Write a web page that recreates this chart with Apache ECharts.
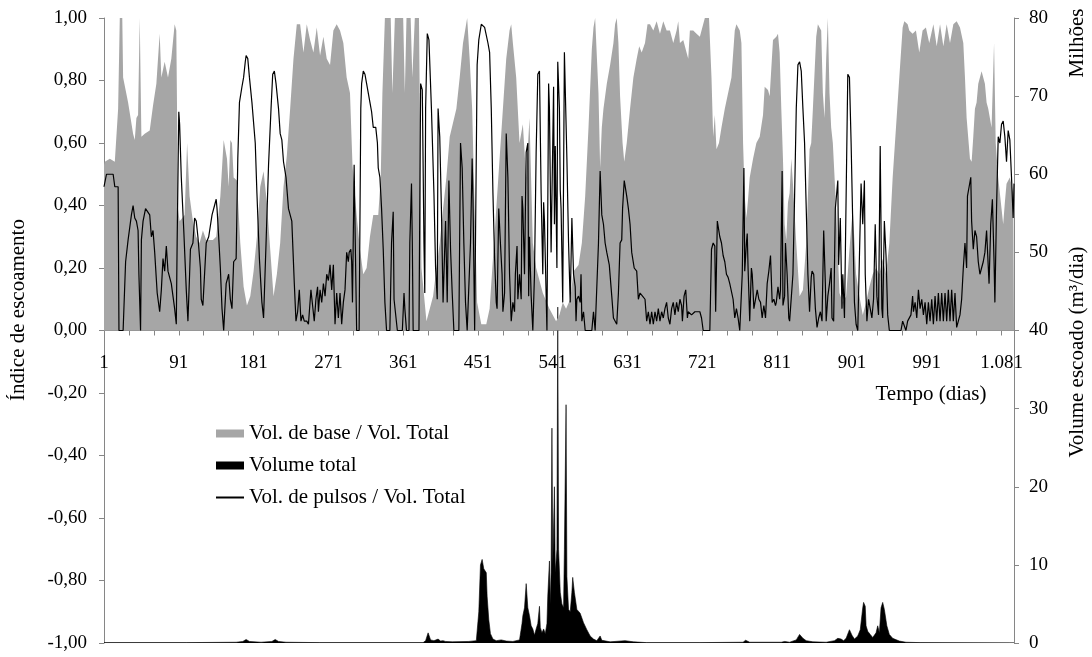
<!DOCTYPE html>
<html>
<head>
<meta charset="utf-8">
<script src="https://cdn.jsdelivr.net/npm/echarts@6/dist/echarts.min.js"></script>
<style>
html,body{margin:0;padding:0;background:#fff;}
#chart{width:1092px;height:657px;}
</style>
</head>
<body>
<div id="chart"></div>
<script>
// ---- Data ----
const seriesNames = ['Vol. de base / Vol. Total', 'Volume total', 'Vol. de pulsos / Vol. Total'];

// Vol. de base / Vol. Total (left axis), day -> ratio
const baseDays = [1,2,8,14,16,18,20,23,24,30,36,38,40,42,44,46,50,56,60,64,68,70,74,78,82,86,88,90,92,98,101,104,108,112,116,120,124,132,136,141,145,149,151,153,155,157,161,165,169,173,177,181,185,189,193,197,201,205,209,213,217,221,225,229,233,237,241,245,249,253,257,261,265,269,273,277,281,285,289,293,297,300,305,309,313,317,321,325,331,334,336,339,346,348,351,361,363,365,370,372,375,380,383,389,393,397,401,405,409,413,417,425,429,433,438,441,444,447,450,455,461,465,469,473,477,481,485,489,491,493,497,501,505,509,513,517,521,529,537,545,549,553,557,562,566,572,576,580,584,588,590,592,594,596,598,600,602,606,610,614,616,618,620,622,625,627,630,634,638,642,645,648,652,655,658,662,666,670,674,678,682,686,690,692,694,698,702,704,706,710,714,718,722,724,729,732,734,736,738,741,744,748,752,756,760,762,766,768,770,772,774,776,778,782,786,790,794,796,800,802,806,810,812,814,816,818,820,822,824,826,828,830,834,838,842,846,850,852,854,858,860,862,864,866,868,870,872,874,876,878,882,886,890,894,898,902,906,910,914,918,922,926,930,934,938,942,946,950,954,958,962,964,968,970,974,978,982,986,990,994,999,1003,1007,1011,1015,1019,1023,1027,1031,1035,1037,1039,1043,1045,1047,1049,1051,1053,1057,1061,1063,1065,1069,1072,1074,1077,1081,1083,1085,1087,1091,1095,1096];
const baseRatio = [0.53,0.54,0.55,0.54,0.54,0.71,1.00,1.00,0.81,0.73,0.63,0.61,0.68,0.69,1.00,0.62,0.63,0.64,0.72,0.79,0.95,0.81,0.86,0.81,0.87,0.98,0.96,0.39,0.35,0.37,0.60,0.43,0.35,0.30,0.28,0.32,0.29,0.29,0.30,0.43,0.61,0.55,0.46,0.61,0.60,0.49,0.48,0.28,0.14,0.08,0.11,0.19,0.30,0.46,0.51,0.41,0.26,0.11,0.18,0.28,0.46,0.56,0.71,0.87,0.98,0.98,0.89,0.98,0.93,0.89,0.97,0.88,0.94,0.87,0.85,0.96,0.98,0.96,0.92,0.81,0.76,0.53,0.37,0.26,0.18,0.20,0.30,0.37,0.37,0.49,0.76,1.00,1.00,0.76,1.00,1.00,0.76,1.00,1.00,0.81,1.00,1.00,0.20,0.03,0.07,0.11,0.20,0.28,0.39,0.49,0.62,0.71,0.81,0.92,1.00,0.87,0.71,0.39,0.09,0.02,0.02,0.07,0.23,0.39,0.55,0.71,0.87,0.96,0.98,0.92,0.81,0.60,0.66,0.49,0.68,0.28,0.20,0.12,0.07,0.03,0.05,0.09,0.07,0.10,0.19,0.21,0.28,0.43,0.65,0.90,0.97,1.00,1.00,0.76,0.52,0.65,0.71,0.79,0.85,0.92,0.98,1.00,0.92,0.75,0.60,0.54,0.60,0.71,0.81,0.87,0.91,0.89,0.92,0.98,0.98,0.96,0.99,0.95,0.99,0.96,0.96,0.92,0.96,0.99,0.92,0.93,0.89,0.87,0.96,0.96,0.95,0.94,0.98,1.00,1.00,0.81,0.62,0.69,0.58,0.60,0.65,0.71,0.76,0.81,0.96,0.98,0.96,0.92,0.60,0.43,0.36,0.42,0.49,0.55,0.60,0.62,0.69,0.78,0.77,0.75,0.93,0.94,0.95,0.89,0.71,0.55,0.34,0.29,0.41,0.44,0.55,0.47,0.28,0.11,0.13,0.28,0.58,0.60,0.71,0.94,0.98,0.97,0.96,0.76,0.68,0.87,1.00,0.76,0.65,0.60,0.39,0.12,0.09,0.11,0.26,0.39,0.18,0.11,0.05,0.09,0.14,0.18,0.20,0.18,0.23,0.18,0.28,0.49,0.65,0.81,0.97,0.99,0.98,0.96,0.95,0.96,0.89,0.96,0.97,0.92,0.98,0.91,0.98,0.91,0.98,0.92,0.98,0.99,0.97,0.92,0.81,0.68,0.55,0.54,0.62,0.71,0.73,0.79,0.83,0.79,0.73,0.71,0.65,0.92,0.60,0.49,0.39,0.34,0.41,0.47,0.49,0.44,0.44];

// Vol. de pulsos / Vol. Total (left axis), day -> ratio
const pulseDays = [1,2,4,12,14,18,19,24,27,30,34,36,38,40,42,43,45,46,48,51,56,58,60,62,65,68,70,72,74,76,78,80,82,84,86,88,89,91,92,94,97,100,102,104,105,108,110,112,114,117,118,120,124,127,131,134,136,137,139,141,143,145,148,151,153,155,157,160,162,164,167,169,171,172,174,176,179,183,185,188,191,193,196,199,202,204,206,208,211,213,215,217,220,223,227,230,232,234,236,238,240,242,245,247,250,252,254,256,258,259,261,263,265,267,269,271,273,275,277,279,281,283,285,287,289,291,293,295,296,298,299,300,302,303,305,308,310,311,313,315,317,319,321,323,325,328,330,331,333,335,337,339,341,345,347,349,350,352,354,360,362,363,365,368,369,371,372,373,380,382,384,386,387,388,390,392,395,398,400,402,403,405,407,409,411,412,414,416,418,420,422,428,430,432,434,436,438,440,442,444,445,447,449,450,452,455,459,463,465,467,469,471,473,474,476,478,480,481,483,485,487,489,491,493,495,496,498,499,501,503,504,505,507,509,511,512,513,515,517,519,521,523,525,527,529,530,531,534,535,536,537,539,542,543,544,546,547,549,550,551,553,555,557,558,560,562,564,566,568,569,570,572,574,575,576,578,580,588,590,592,594,596,598,600,602,604,606,609,612,614,618,620,622,624,625,627,630,632,634,636,639,642,644,646,649,652,654,656,658,660,662,664,666,668,670,672,674,676,678,680,682,684,686,688,690,692,694,696,697,699,701,703,704,708,712,718,720,722,730,732,734,736,737,739,742,744,746,748,750,752,754,756,758,760,762,764,766,768,769,771,772,774,775,776,778,780,781,783,785,787,789,791,793,795,797,799,801,803,805,807,809,810,812,814,815,817,818,820,821,823,825,826,828,830,832,834,836,838,840,842,844,846,848,850,852,853,855,857,859,861,863,865,867,869,870,872,874,876,877,879,881,882,884,885,887,889,890,892,894,896,898,900,902,904,906,908,910,912,914,916,917,919,921,923,925,927,929,931,933,935,937,938,940,942,944,946,960,962,964,966,968,970,972,974,975,977,979,981,983,985,987,989,991,993,995,997,999,1001,1003,1005,1007,1009,1011,1013,1015,1017,1019,1021,1023,1025,1027,1029,1031,1033,1035,1037,1039,1040,1042,1044,1045,1047,1049,1051,1053,1055,1057,1059,1061,1063,1065,1066,1068,1070,1072,1073,1075,1077,1079,1081,1083,1085,1087,1089,1091,1093,1095,1096];
const pulseRatio = [0.46,0.46,0.50,0.50,0.46,0.46,0.00,0.00,0.22,0.29,0.37,0.40,0.36,0.35,0.32,0.18,0.00,0.29,0.35,0.39,0.37,0.30,0.32,0.25,0.12,0.06,0.13,0.23,0.19,0.27,0.19,0.19,0.15,0.11,0.07,0.02,0.28,0.70,0.66,0.49,0.32,0.13,0.03,0.18,0.26,0.28,0.36,0.35,0.30,0.20,0.10,0.08,0.28,0.30,0.37,0.40,0.42,0.39,0.30,0.20,0.07,0.00,0.15,0.18,0.10,0.07,0.22,0.23,0.55,0.73,0.78,0.81,0.86,0.88,0.87,0.81,0.73,0.60,0.44,0.23,0.09,0.04,0.28,0.53,0.71,0.82,0.83,0.79,0.71,0.63,0.61,0.54,0.49,0.39,0.35,0.15,0.03,0.06,0.13,0.03,0.05,0.03,0.03,0.02,0.13,0.08,0.03,0.10,0.14,0.06,0.13,0.09,0.15,0.11,0.18,0.16,0.21,0.13,0.21,0.02,0.12,0.04,0.12,0.02,0.09,0.13,0.25,0.22,0.25,0.26,0.22,0.09,0.53,0.34,0.00,0.00,0.71,0.79,0.83,0.82,0.79,0.79,0.73,0.70,0.65,0.65,0.60,0.52,0.49,0.39,0.26,0.09,0.00,0.00,0.28,0.38,0.10,0.10,0.00,0.00,0.12,0.07,0.00,0.00,0.28,0.47,0.28,0.00,0.00,0.79,0.77,0.28,0.12,0.71,0.95,0.93,0.71,0.44,0.20,0.10,0.71,0.62,0.39,0.09,0.09,0.35,0.09,0.48,0.26,0.12,0.00,0.00,0.60,0.52,0.28,0.09,0.00,0.00,0.28,0.55,0.42,0.00,0.00,0.85,0.93,0.98,0.97,0.92,0.89,0.71,0.44,0.23,0.09,0.07,0.39,0.28,0.18,0.06,0.12,0.63,0.49,0.18,0.03,0.09,0.06,0.18,0.27,0.10,0.18,0.10,0.43,0.39,0.18,0.57,0.60,0.11,0.30,0.11,0.00,0.18,0.57,0.82,0.83,0.44,0.18,0.41,0.35,0.00,0.00,0.79,0.71,0.25,0.78,0.34,0.59,0.20,0.86,0.71,0.45,0.39,0.09,0.89,0.89,0.55,0.28,0.09,0.36,0.18,0.14,0.03,0.10,0.11,0.09,0.18,0.03,0.06,0.00,0.00,0.06,0.00,0.00,0.28,0.51,0.37,0.34,0.28,0.25,0.21,0.11,0.04,0.02,0.12,0.28,0.29,0.39,0.48,0.43,0.39,0.34,0.25,0.20,0.19,0.10,0.12,0.11,0.10,0.03,0.06,0.02,0.06,0.02,0.06,0.03,0.07,0.03,0.06,0.04,0.07,0.09,0.04,0.02,0.07,0.09,0.05,0.09,0.06,0.10,0.08,0.03,0.11,0.13,0.04,0.06,0.05,0.06,0.06,0.04,0.00,0.00,0.26,0.28,0.27,0.06,0.35,0.30,0.28,0.24,0.22,0.18,0.17,0.15,0.15,0.10,0.04,0.07,0.04,0.00,0.00,0.18,0.52,0.19,0.28,0.31,0.20,0.03,0.20,0.18,0.07,0.07,0.13,0.10,0.09,0.04,0.08,0.04,0.15,0.19,0.24,0.09,0.10,0.08,0.09,0.14,0.10,0.13,0.51,0.08,0.11,0.28,0.18,0.04,0.03,0.03,0.18,0.43,0.71,0.85,0.86,0.83,0.71,0.60,0.39,0.18,0.06,0.17,0.19,0.18,0.07,0.01,0.04,0.06,0.03,0.32,0.15,0.03,0.11,0.15,0.20,0.04,0.03,0.39,0.39,0.48,0.21,0.36,0.07,0.18,0.04,0.04,0.82,0.81,0.60,0.34,0.09,0.02,0.00,0.00,0.47,0.34,0.48,0.18,0.03,0.10,0.07,0.04,0.10,0.34,0.11,0.05,0.59,0.07,0.04,0.35,0.24,0.05,0.00,0.00,0.03,0.03,0.00,0.03,0.03,0.05,0.11,0.06,0.09,0.04,0.13,0.07,0.10,0.05,0.09,0.02,0.09,0.03,0.10,0.02,0.11,0.03,0.12,0.03,0.12,0.03,0.12,0.03,0.13,0.03,0.13,0.03,0.12,0.01,0.03,0.05,0.10,0.20,0.28,0.20,0.43,0.46,0.49,0.35,0.26,0.32,0.30,0.22,0.18,0.20,0.22,0.25,0.32,0.32,0.15,0.34,0.42,0.22,0.09,0.39,0.62,0.60,0.66,0.67,0.62,0.54,0.64,0.61,0.49,0.36,0.47];

// Volume total (right axis, millions of m3/day), day -> value
const volDays = [1,100,160,168,172,176,190,203,207,211,220,260,385,388,391,394,398,403,406,409,412,420,440,449,452,454,456,458,461,462,464,466,469,473,479,485,493,501,504,505,507,509,511,513,515,517,519,521,523,525,526,528,530,532,534,535,537,538,539,540,541,543,544,546,547,548,550,552,554,555,557,558,560,562,564,565,567,570,574,578,582,586,590,594,598,600,610,628,638,654,718,770,773,778,816,820,826,834,838,842,846,854,870,880,884,888,891,894,898,901,904,908,911,914,915,917,918,920,923,926,928,930,932,934,936,938,940,942,943,946,950,958,966,983,1096];
const volTotal = [0.05,0.05,0.1,0.2,0.45,0.2,0.1,0.2,0.45,0.2,0.1,0.05,0.05,0.3,1.3,0.4,0.3,0.5,0.25,0.3,0.2,0.15,0.2,0.3,4.0,10.0,10.7,9.5,9.0,6.0,3.0,1.2,0.5,0.3,0.4,0.25,0.2,0.4,2.5,3.5,4.5,7.6,4.5,3.5,2.2,1.8,1.0,1.8,2.5,4.7,2.0,1.3,1.8,1.2,2.5,6.0,10.5,5.0,9.0,27.5,10.0,20.0,9.0,12.0,43.0,12.0,6.5,5.0,4.5,12.0,30.5,8.5,4.3,4.0,6.5,8.4,6.5,4.3,3.8,2.6,1.7,0.9,0.5,0.3,0.9,0.35,0.15,0.3,0.15,0.05,0.05,0.1,0.35,0.1,0.1,0.2,0.1,0.4,1.1,0.6,0.3,0.15,0.1,0.3,0.6,0.5,0.3,0.6,1.7,1.0,0.5,0.9,1.7,4.5,5.2,4.7,2.2,1.5,1.1,0.7,0.9,1.3,2.2,1.3,4.5,5.2,4.3,4.3,2.2,1.1,0.6,0.25,0.1,0.05,0.05];

// Axis settings
const dayTickStep = 30;
const dayLabelStep = 90;
const lastDay = 1096;

// ---- Chart ----
const FONT = 'Liberation Serif';
const AXIS_COLOR = '#868686';
const TITLE_FONT = '21px "Liberation Serif"';
const toPairs = (days, vals) => days.map((d, i) => [d - 1, vals[i]]);

function fmtDay(v) {
  if (v % dayLabelStep !== 0) return '';
  const d = v + 1;
  if (d >= 1000) return Math.floor(d / 1000) + '.' + String(d % 1000).padStart(3, '0');
  return String(d);
}
function fmtRatio(v) {
  let s = Math.abs(v) < 1e-9 ? '0.00' : v.toFixed(2);
  return s.replace('.', ',');
}

const chart = echarts.init(document.getElementById('chart'), null, {renderer: 'canvas'});
chart.setOption({
  animation: false,
  backgroundColor: '#ffffff',
  textStyle: {fontFamily: FONT},
  grid: [
    {left: 104, right: 78, top: 18, bottom: 14, containLabel: false, outerBoundsMode: 'none'},
    {left: 104, right: 78, top: 18, height: 314, containLabel: false, outerBoundsMode: 'none'}
  ],
  legend: {
    orient: 'vertical',
    left: 210,
    top: 418,
    itemWidth: 28,
    itemHeight: 8,
    itemGap: 11,
    textStyle: {fontFamily: FONT, fontSize: 21, color: '#000', lineHeight: 21},
    data: [
      {name: seriesNames[0], icon: 'rect'},
      {name: seriesNames[1], icon: 'rect'},
      {name: seriesNames[2], itemStyle: {opacity: 0}}
    ]
  },
  xAxis: [
    {
      type: 'value', gridIndex: 0,
      min: 0, max: lastDay - 1, interval: dayTickStep,
      axisLine: {onZero: true, onZeroAxisIndex: 0, lineStyle: {color: AXIS_COLOR, width: 1}},
      axisTick: {show: true, length: 5, lineStyle: {color: AXIS_COLOR}},
      axisLabel: {show: false},
      splitLine: {show: false}
    },
    {
      type: 'value', gridIndex: 1,
      min: 0, max: lastDay - 1, interval: dayTickStep,
      axisLine: {show: false},
      axisTick: {show: false},
      axisLabel: {formatter: fmtDay, fontFamily: FONT, fontSize: 19, color: '#000', margin: 22, showMaxLabel: false},
      splitLine: {show: false}
    }
  ],
  yAxis: [
    {
      type: 'value', gridIndex: 0, position: 'left', min: -1, max: 1, interval: 0.2,
      axisLine: {show: true, lineStyle: {color: AXIS_COLOR, width: 1}},
      axisTick: {show: true, length: 5, lineStyle: {color: AXIS_COLOR}},
      axisLabel: {formatter: fmtRatio, fontFamily: FONT, fontSize: 19, color: '#000', margin: 17},
      splitLine: {show: false}
    },
    {
      type: 'value', gridIndex: 0, position: 'right', min: 0, max: 80, interval: 10,
      axisLine: {show: true, lineStyle: {color: AXIS_COLOR, width: 1}},
      axisTick: {show: true, length: 5, lineStyle: {color: AXIS_COLOR}},
      axisLabel: {fontFamily: FONT, fontSize: 19, color: '#000', margin: 15},
      splitLine: {show: false}
    },
    {
      type: 'value', gridIndex: 1, min: 0, max: 1, show: false
    }
  ],
  graphic: [
    {type: 'text', x: 18, y: 310, rotation: Math.PI / 2,
     style: {text: 'Índice de escoamento', font: TITLE_FONT, fill: '#000', align: 'center', verticalAlign: 'middle'}},
    {type: 'text', x: 1077, y: 352, rotation: Math.PI / 2,
     style: {text: 'Volume escoado (m³/dia)', font: TITLE_FONT, fill: '#000', align: 'center', verticalAlign: 'middle'}},
    {type: 'text', x: 1077, y: 43, rotation: Math.PI / 2,
     style: {text: 'Milhões', font: TITLE_FONT, fill: '#000', align: 'center', verticalAlign: 'middle'}},
    {type: 'text', x: 931, y: 394,
     style: {text: 'Tempo (dias)', font: TITLE_FONT, fill: '#000', align: 'center', verticalAlign: 'middle'}}
  ],
  series: [
    {
      name: seriesNames[1], type: 'line', xAxisIndex: 0, yAxisIndex: 1, symbol: 'none',
      data: toPairs(volDays, volTotal),
      itemStyle: {color: '#000000'},
      lineStyle: {color: '#000000', width: 0.6},
      areaStyle: {color: '#000000', opacity: 1},
      z: 1
    },
    {
      name: seriesNames[0], type: 'line', xAxisIndex: 0, yAxisIndex: 0, symbol: 'none',
      data: toPairs(baseDays, baseRatio),
      itemStyle: {color: '#a6a6a6'},
      lineStyle: {color: '#a6a6a6', width: 0},
      areaStyle: {color: '#a6a6a6', opacity: 1},
      z: 2
    },
    {
      name: seriesNames[2], type: 'line', xAxisIndex: 0, yAxisIndex: 0, symbol: 'none',
      data: toPairs(pulseDays, pulseRatio),
      itemStyle: {color: '#000000'},
      lineStyle: {color: '#000000', width: 1.2},
      z: 3
    }
  ]
});
</script>
</body>
</html>
